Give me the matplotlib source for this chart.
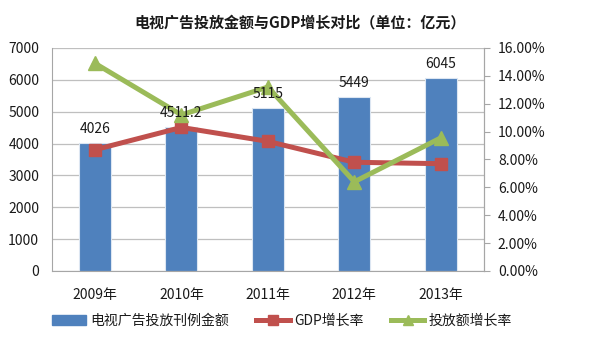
import matplotlib
matplotlib.use("Agg")
import matplotlib.pyplot as plt
from matplotlib.ticker import FuncFormatter
from matplotlib.lines import Line2D
from matplotlib.patches import Patch

plt.rcParams['font.family'] = ['Noto Sans CJK SC', 'DejaVu Sans']

categories = ['2009年', '2010年', '2011年', '2012年', '2013年']
ad_amount = [4026, 4511.2, 5115, 5449, 6045]
ad_labels = ['4026', '4511.2', '5115', '5449', '6045']
gdp_growth = [8.7, 10.3, 9.3, 7.8, 7.7]
ad_growth = [14.9, 11.2, 13.2, 6.4, 9.55]

title = '电视广告投放金额与GDP增长对比（单位：亿元）'
bar_name = '电视广告投放刊例金额'
gdp_name = 'GDP增长率'
adg_name = '投放额增长率'

blue = '#4F81BD'
red = '#C0504D'
green = '#9BBB59'
grid_c = '#BFBFBF'
text_c = '#1a1a1a'

fig = plt.figure(figsize=(6.0, 3.56), dpi=100)
ax = fig.add_axes([0.0862, 0.2388, 0.7205, 0.6264])
x = list(range(len(categories)))

ax.bar(x, ad_amount, width=0.37, color=blue, edgecolor='#DCE6F2', linewidth=0.8, zorder=2)

ax.set_ylim(0, 7000)
ax.set_xlim(-0.5, len(categories) - 0.5)
ax.set_yticks(range(0, 7001, 1000))
ax.yaxis.grid(True, color=grid_c, linewidth=0.9, zorder=0)
ax.set_axisbelow(True)
ax.set_xticks(x)
ax.set_xticklabels(categories)
ax.tick_params(axis='both', length=0, labelsize=10, colors=text_c)
ax.tick_params(axis='x', pad=12)
ax.tick_params(axis='y', pad=9)
for s in ['left', 'bottom', 'right']:
    ax.spines[s].set_color('#A6A6A6')
ax.spines['top'].set_visible(False)

ax2 = ax.twinx()
ax2.set_ylim(0, 16)
ax2.set_yticks(range(0, 17, 2))
ax2.yaxis.set_major_formatter(FuncFormatter(lambda v, p: f'{v:.2f}%'))
ax2.tick_params(axis='y', length=4, color='#A6A6A6', labelsize=10, labelcolor=text_c, pad=6)
for s in ['top', 'left', 'bottom']:
    ax2.spines[s].set_visible(False)
ax2.spines['right'].set_color('#A6A6A6')

ax2.plot(x, gdp_growth, color=red, linewidth=3.6, marker='s', markersize=9,
         markerfacecolor=red, markeredgecolor=red, zorder=3)
ax2.plot(x, ad_growth, color=green, linewidth=3.6, marker='^', markersize=10.5,
         markerfacecolor=green, markeredgecolor=green, zorder=4)

for xi, v, lab in zip(x, ad_amount, ad_labels):
    ax2.annotate(lab, (xi, v), xycoords=ax.transData, xytext=(0, 5),
                 textcoords='offset points', ha='center', va='bottom',
                 fontsize=10, color=text_c, zorder=10)

fig.text(0.5, 0.936, title, ha='center', va='center', fontsize=10.8,
         fontweight='bold', color=text_c)

handles = [Patch(facecolor=blue, edgecolor=blue),
           Line2D([0], [0], color=red, linewidth=3.6, marker='s', markersize=7),
           Line2D([0], [0], color=green, linewidth=3.6, marker='^', markersize=7)]
fig.legend(handles, [bar_name, gdp_name, adg_name], loc='center',
           bbox_to_anchor=(0.47, 0.098), ncol=3, frameon=False, fontsize=10,
           handlelength=2.4, handletextpad=0.3, columnspacing=2.0,
           labelcolor=text_c)

fig.savefig('out.png', dpi=100, facecolor='white')
